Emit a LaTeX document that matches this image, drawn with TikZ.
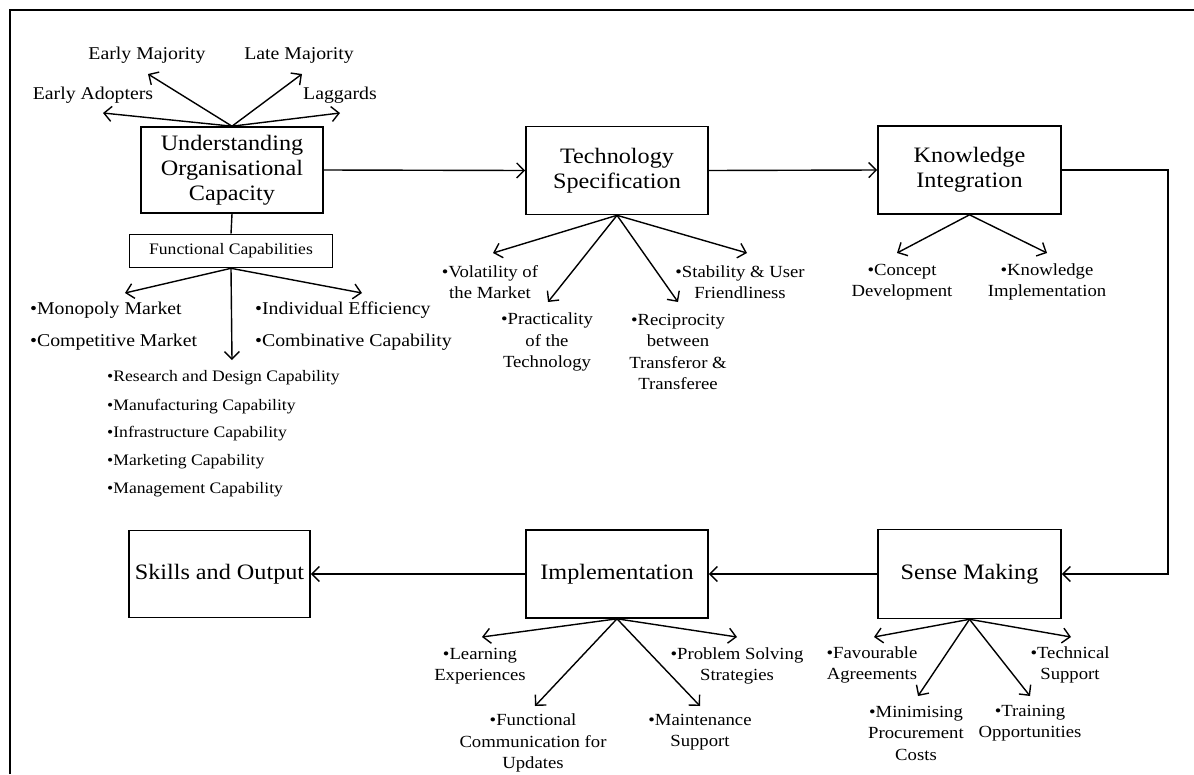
\documentclass[tikz,border=0pt]{standalone}
\usepackage{fontspec}
\setmainfont{Liberation Serif}[FakeStretch=1.1]
\usetikzlibrary{arrows.meta}
\begin{document}
\begin{tikzpicture}[x=1pt,y=-1pt,
  box/.style={draw, line width=1.6pt, inner sep=0pt, align=center,
    font=\fontsize{22}{25}\selectfont},
  fcbox/.style={draw, line width=1.6pt, inner sep=0pt, align=center,
    font=\fontsize{16}{19}\selectfont},
  toplbl/.style={inner sep=0pt, align=center, font=\fontsize{18}{21}\selectfont},
  lbl/.style={inner sep=0pt, align=center, font=\fontsize{17}{21.5}\selectfont},
  leftlbl/.style={inner sep=0pt, anchor=west, font=\fontsize{18}{21}\selectfont},
  smalllbl/.style={inner sep=0pt, anchor=west, font=\fontsize{16}{19}\selectfont},
  link/.style={line width=1.4pt, -{Straight Barb[length=7.5pt,width=15pt,line width=1.4pt]}},
  plain/.style={line width=1.4pt},
]
\useasboundingbox (0,0) rectangle (1194,774);
% outer frame
\draw[line width=2pt] (10,774) -- (10,10) -- (1194,10);

% main stage boxes
\node[box, minimum width=182pt, minimum height=86pt] (uoc) at (232,170) {Understanding\\Organisational\\Capacity};
\node[fcbox, minimum width=203pt, minimum height=33pt] (fc) at (231,251) {Functional Capabilities};
\node[box, minimum width=182pt, minimum height=88pt] (ts) at (617,170.5) {Technology\\Specification};
\node[box, minimum width=183pt, minimum height=88pt] (ki) at (969.5,170) {Knowledge\\Integration};
\node[box, minimum width=183pt, minimum height=89pt] (sm) at (969.5,574) {Sense Making};
\node[box, minimum width=182pt, minimum height=88pt] (impl) at (617,574) {Implementation};
\node[box, minimum width=181pt, minimum height=87pt] (so) at (219.5,574) {Skills and Output};

% process flow
\coordinate (turn) at (1168,574);
\draw[link] (uoc.east) -- (ts.west);
\draw[link] (ts.east) -- (ki.west);
\draw[link] (ki.east) -| (turn) -- (sm.east);
\draw[link] (sm.west) -- (impl.east);
\draw[link] (impl.west) -- (so.east);
\draw[plain] (uoc.south) -- (fc.north);

% adopter categories
\node[toplbl] (ea) at (93,95) {Early Adopters};
\node[toplbl] (em) at (147,55) {Early Majority};
\node[toplbl] (lm) at (299,55) {Late Majority};
\node[toplbl] (lg) at (340,95) {Laggards};
\coordinate (t-ea) at (103,113);
\coordinate (t-em) at (148,74);
\coordinate (t-lm) at (302,74);
\coordinate (t-lg) at (340,113);
\foreach \t in {t-ea,t-em,t-lm,t-lg} \draw[link] (uoc.north) -- (\t);

% functional capabilities
\node[leftlbl] (mono) at (30,310) {•Monopoly Market};
\node[leftlbl] (comp) at (30,342) {•Competitive Market};
\node[leftlbl] (indiv) at (255,310) {•Individual Efficiency};
\node[leftlbl] (comb) at (255,342) {•Combinative Capability};
\coordinate (t-fl) at (125,293);
\coordinate (t-fd) at (232,360);
\coordinate (t-fr) at (362,293);
\foreach \t in {t-fl,t-fd,t-fr} \draw[link] (fc.south) -- (\t);
\node[smalllbl] (rd) at (107,378) {•Research and Design Capability};
\node[smalllbl] (mf) at (107,407) {•Manufacturing Capability};
\node[smalllbl] (inf) at (107,434) {•Infrastructure Capability};
\node[smalllbl] (mk) at (107,462) {•Marketing Capability};
\node[smalllbl] (mg) at (107,490) {•Management Capability};

% technology specification
\node[lbl] (vol) at (490,282) {•Volatility of\\the Market};
\node[lbl] (prac) at (547,342) {•Practicality\\of the\\Technology};
\node[lbl] (recip) at (678,352) {•Reciprocity\\between\\Transferor \&\\Transferee};
\node[lbl] (stab) at (740,282) {•Stability \& User\\Friendliness};
\coordinate (t-vol) at (493,253);
\coordinate (t-prac) at (548,302);
\coordinate (t-recip) at (678,302);
\coordinate (t-stab) at (747,253);
\foreach \t in {t-vol,t-prac,t-recip,t-stab} \draw[link] (ts.south) -- (\t);

% knowledge integration
\node[lbl] (cd) at (902,282) {•Concept\\Development};
\node[lbl] (kimp) at (1047,282) {•Knowledge\\Implementation};
\coordinate (t-cd) at (897,253);
\coordinate (t-kimp) at (1047,253);
\foreach \t in {t-cd,t-kimp} \draw[link] (ki.south) -- (\t);

% sense making
\node[lbl] (fav) at (872,665) {•Favourable\\Agreements};
\node[lbl] (tech) at (1070,665) {•Technical\\Support};
\node[lbl] (mpc) at (916,733) {•Minimising\\Procurement\\Costs};
\node[lbl] (train) at (1030,723) {•Training\\Opportunities};
\coordinate (t-fav) at (874,637);
\coordinate (t-mpc) at (918,696);
\coordinate (t-train) at (1030,696);
\coordinate (t-tech) at (1071,637);
\foreach \t in {t-fav,t-mpc,t-train,t-tech} \draw[link] (sm.south) -- (\t);

% implementation
\node[lbl] (learn) at (480,666) {•Learning\\Experiences};
\node[lbl] (prob) at (737,666) {•Problem Solving\\Strategies};
\node[lbl] (func) at (533,743) {•Functional\\Communication for\\Updates};
\node[lbl] (maint) at (700,732) {•Maintenance\\Support};
\coordinate (t-learn) at (482,637);
\coordinate (t-func) at (535,706);
\coordinate (t-maint) at (700,706);
\coordinate (t-prob) at (737,637);
\foreach \t in {t-learn,t-func,t-maint,t-prob} \draw[link] (impl.south) -- (\t);
\end{tikzpicture}
\end{document}
